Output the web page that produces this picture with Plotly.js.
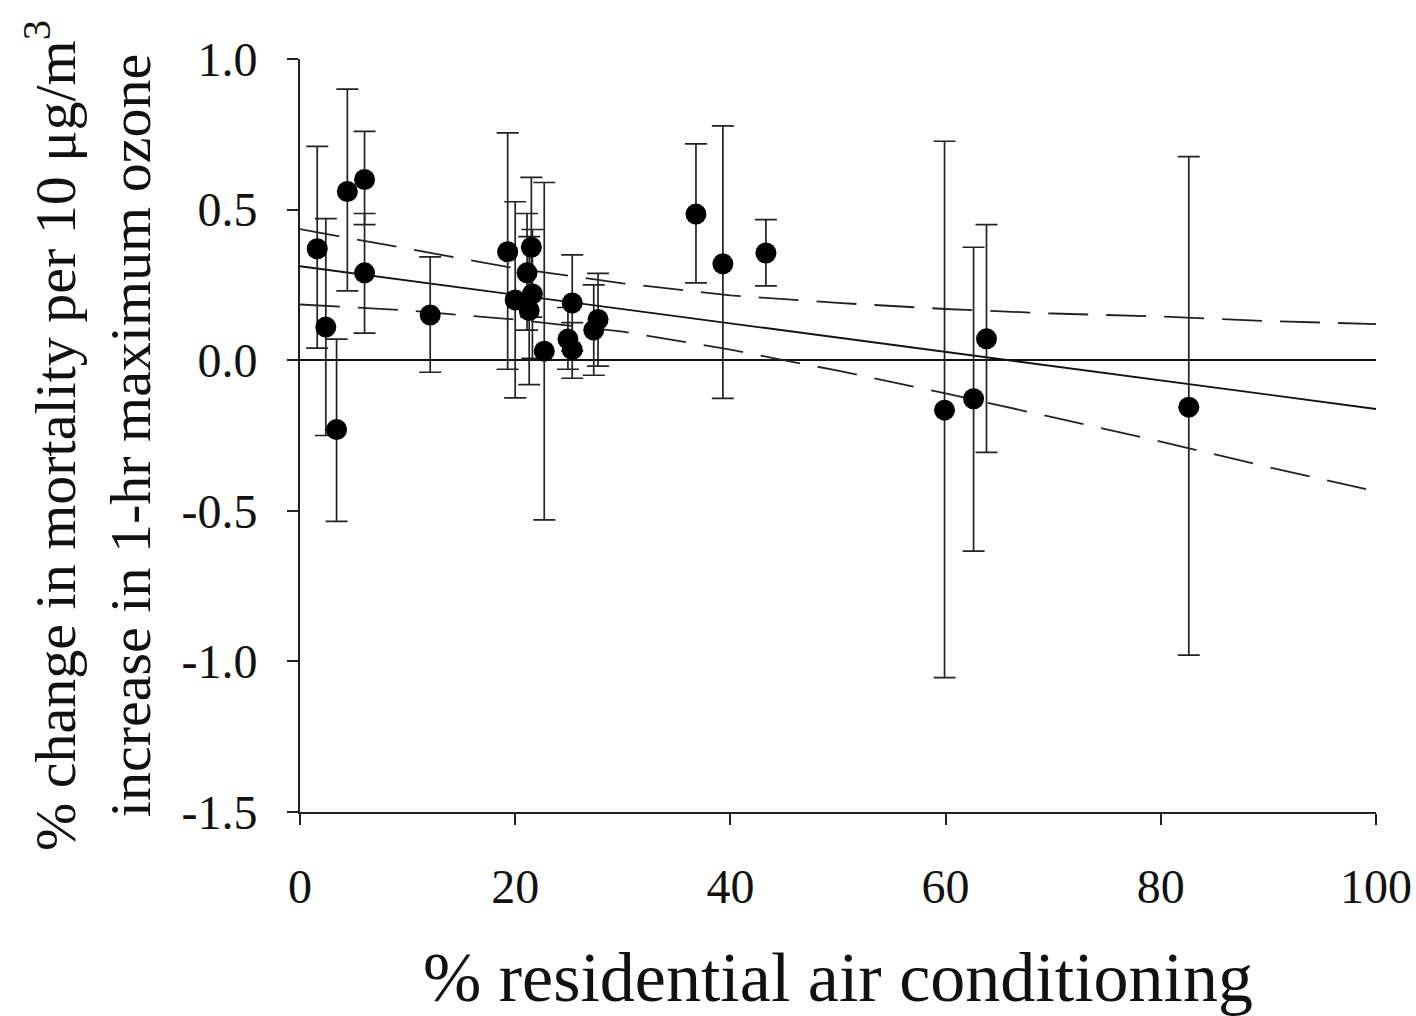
<!DOCTYPE html>
<html>
<head>
<meta charset="utf-8">
<script src="https://cdn.plot.ly/plotly-3.0.1.min.js"></script>
<style>html,body{margin:0;padding:0;background:#fff}#chart{width:1416px;height:1016px}</style>
</head>
<body>
<div id="chart"></div>
<script>
// % residential air conditioning (x) and % change in mortality (y) with 95% CI
const acPct   = [1.6, 2.4, 3.4, 4.4, 6.0, 6.0, 12.1, 19.3, 20.0, 21.1, 21.5, 21.6, 21.3, 22.7, 25.3, 24.9, 25.3, 27.7, 27.3, 36.8, 39.3, 43.3, 59.9, 62.6, 63.8, 82.6];
const effect  = [0.37, 0.11, -0.23, 0.56, 0.60, 0.29, 0.15, 0.36, 0.20, 0.29, 0.375, 0.22, 0.165, 0.03, 0.19, 0.07, 0.035, 0.135, 0.10, 0.485, 0.32, 0.356, -0.166, -0.128, 0.071, -0.156];
const ciUpper = [0.71, 0.47, 0.07, 0.90, 0.76, 0.487, 0.343, 0.755, 0.526, 0.487, 0.607, 0.434, 0.41, 0.59, 0.35, 0.175, 0.125, 0.288, 0.25, 0.718, 0.778, 0.467, 0.727, 0.375, 0.45, 0.676];
const ciLower = [0.04, -0.25, -0.535, 0.23, 0.45, 0.09, -0.04, -0.03, -0.125, 0.10, 0.143, 0.006, -0.081, -0.53, 0.03, -0.03, -0.06, -0.02, -0.05, 0.257, -0.127, 0.247, -1.054, -0.634, -0.306, -0.979];

// meta-regression line and its confidence band
const fitX = [0, 100];
const fitY = [0.312, -0.162];
const bandX     = [0, 10, 20, 30, 40, 50, 60, 70, 80, 90, 100];
const bandUpper = [0.435, 0.37, 0.305, 0.255, 0.215, 0.19, 0.17, 0.155, 0.145, 0.13, 0.12];
const bandLower = [0.185, 0.165, 0.135, 0.095, 0.035, -0.035, -0.11, -0.19, -0.27, -0.355, -0.435];

const xTickVals = [0, 20, 40, 60, 80, 100];
const xTickText = ['0', '20', '40', '60', '80', '100'];
const yTickVals = [-1.5, -1.0, -0.5, 0.0, 0.5, 1.0];
const yTickText = ['-1.5', '-1.0', '-0.5', '0.0', '0.5', '1.0'];

const errPlus  = effect.map((v, i) => ciUpper[i] - v);
const errMinus = effect.map((v, i) => v - ciLower[i]);

const FONT = '"Liberation Serif", "Times New Roman", serif';

const traces = [
  {x: bandX, y: bandUpper, mode: 'lines', line: {color: '#222', width: 1.8, dash: '40px,18px'}, hoverinfo: 'skip'},
  {x: bandX, y: bandLower, mode: 'lines', line: {color: '#222', width: 1.8, dash: '40px,18px'}, hoverinfo: 'skip'},
  {x: fitX, y: fitY, mode: 'lines', line: {color: '#111', width: 1.8}, hoverinfo: 'skip'},
  {
    x: acPct, y: effect, mode: 'markers',
    marker: {color: '#000', size: 21},
    error_y: {type: 'data', symmetric: false, array: errPlus, arrayminus: errMinus,
              color: '#222', thickness: 1.7, width: 11}
  }
];

const layout = {
  width: 1416, height: 1016,
  paper_bgcolor: '#fff', plot_bgcolor: '#fff',
  showlegend: false,
  margin: {l: 300, r: 40, t: 59, b: 204},
  font: {family: FONT, color: '#111'},
  xaxis: {
    range: [0, 100], tickvals: xTickVals, ticktext: xTickText,
    showgrid: false, zeroline: false, showline: true, linecolor: '#222', linewidth: 2,
    ticks: 'outside', ticklen: 11, tickwidth: 2, tickcolor: '#222',
    tickfont: {family: FONT, size: 48, color: '#111'},
    ticklabelstandoff: 20,
    title: {text: '% residential air conditioning', font: {family: FONT, size: 70, color: '#111'}, standoff: 48}
  },
  yaxis: {
    range: [-1.5, 1.0], tickvals: yTickVals, ticktext: yTickText,
    showgrid: false, zeroline: true, zerolinecolor: '#111', zerolinewidth: 1.6,
    showline: true, linecolor: '#222', linewidth: 2,
    ticks: 'outside', ticklen: 11, tickwidth: 2, tickcolor: '#222',
    tickfont: {family: FONT, size: 48, color: '#111'},
    ticklabelstandoff: 20,
    title: {text: '% change in mortality per 10 μg/m<sup>3</sup><br>increase in 1-hr maximum ozone',
            font: {family: FONT, size: 58, color: '#111'}, standoff: 12}
  }
};

Plotly.newPlot('chart', traces, layout, {staticPlot: true, displayModeBar: false});
</script>
</body>
</html>
